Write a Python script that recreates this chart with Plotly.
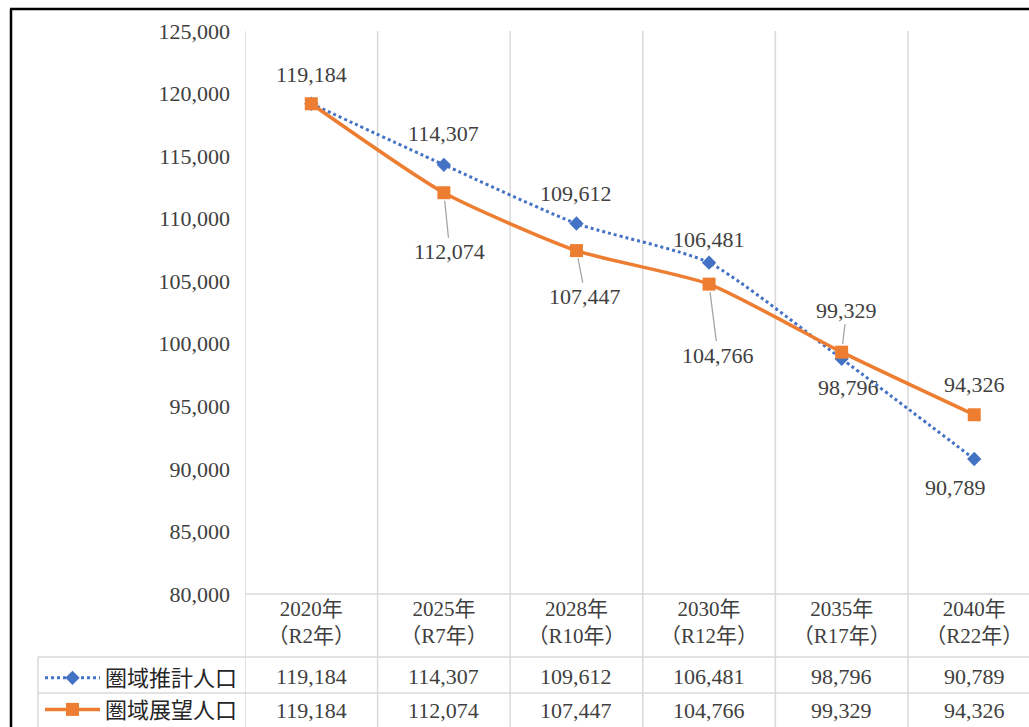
import plotly.graph_objects as go

# ---------------- data ----------------
years = ["2020年", "2025年", "2028年", "2030年", "2035年", "2040年"]
reiwa = ["R2年", "R7年", "R10年", "R12年", "R17年", "R22年"]
series_names = ["圏域推計人口", "圏域展望人口"]
estimated = [119184, 114307, 109612, 106481, 98796, 90789]
vision = [119184, 112074, 107447, 104766, 99329, 94326]
y_ticks = [80000, 85000, 90000, 95000, 100000, 105000, 110000, 115000, 120000, 125000]

# ---------------- layout helpers (pixels -> paper) ----------------
W, H = 1029, 727
def px(x):
    return x / W
def py(y):
    return 1 - y / H

NUM_FONT = "Liberation Serif, Noto Sans CJK JP, serif"
JP_FONT = "Noto Sans CJK JP, sans-serif"
TXT = "#404040"
GRID = "#D9D9D9"
BLUE = "#4472C4"
ORANGE = "#ED7D31"

xs = list(range(len(years)))
ticktext = [f"{a}<br>（{b}）" for a, b in zip(years, reiwa)]

fig = go.Figure()
fig.add_trace(go.Scatter(
    x=xs, y=estimated, name=series_names[0], mode="lines+markers",
    line=dict(color=BLUE, width=3, dash="dot", shape="spline", smoothing=0.6),
    marker=dict(symbol="diamond", size=11, color=BLUE),
    legendgroup="a", cliponaxis=False,
))
fig.add_trace(go.Scatter(
    x=xs, y=vision, name=series_names[1], mode="lines+markers",
    line=dict(color=ORANGE, width=3.5, shape="spline", smoothing=0.6),
    marker=dict(symbol="square", size=13, color=ORANGE),
    legendgroup="b", cliponaxis=False,
))

# data label offsets (pixels)
est_shift = [(0, 29), (0, 31), (0, 30), (0, 23), (7, -29), (-19, -28)]
vis_off = [None, (6, 59), (9, 46), (9, 71), (5, -42), (0, -30)]
vis_leader = [False, True, True, True, True, False]

LBL = dict(family=NUM_FONT, size=22, color=TXT)
ann = []
for i, v in enumerate(estimated):
    dx, dy = est_shift[i]
    ann.append(dict(x=xs[i], y=v, xref="x", yref="y", text=f"{v:,}", showarrow=False,
                    xshift=dx, yshift=dy, font=LBL))
for i, v in enumerate(vision):
    if vis_off[i] is None:
        continue
    dx, dy = vis_off[i]
    if vis_leader[i]:
        ann.append(dict(x=xs[i], y=v, xref="x", yref="y", text=f"{v:,}", showarrow=True,
                        ax=dx, ay=dy, arrowhead=0, arrowwidth=1.3, arrowcolor="#A6A6A6",
                        standoff=8, font=LBL))
    else:
        ann.append(dict(x=xs[i], y=v, xref="x", yref="y", text=f"{v:,}", showarrow=False,
                        xshift=dx, yshift=-dy, font=LBL))

# data table values
for row_y, vals in ((676, estimated), (710, vision)):
    for i, v in enumerate(vals):
        ann.append(dict(x=xs[i], y=py(row_y), xref="x", yref="paper", text=f"{v:,}",
                        showarrow=False, yanchor="middle", font=LBL))

shapes = []
# vertical category boundaries (grid + table)
for i in range(len(years) + 1):
    shapes.append(dict(type="line", xref="x", yref="paper", x0=i - 0.5, x1=i - 0.5,
                       y0=py(31), y1=py(740), line=dict(color=GRID, width=1.5), layer="below"))
# table horizontal lines
shapes.append(dict(type="line", xref="paper", yref="paper", x0=px(245), x1=1.02,
                   y0=py(594), y1=py(594), line=dict(color=GRID, width=1.5), layer="below"))
for yy in (657, 693):
    shapes.append(dict(type="line", xref="paper", yref="paper", x0=px(38), x1=1.02,
                       y0=py(yy), y1=py(yy), line=dict(color=GRID, width=1.5), layer="below"))
shapes.append(dict(type="line", xref="paper", yref="paper", x0=px(38), x1=px(38),
                   y0=py(657), y1=py(740), line=dict(color=GRID, width=1.5), layer="below"))
# outer frame (left & top visible)
shapes.append(dict(type="line", xref="paper", yref="paper", x0=px(11), x1=px(11),
                   y0=py(9), y1=py(740), line=dict(color="#000000", width=2.5)))
shapes.append(dict(type="line", xref="paper", yref="paper", x0=px(10), x1=1.02,
                   y0=py(9), y1=py(9), line=dict(color="#000000", width=2.5)))

fig.update_layout(
    width=W, height=H,
    margin=dict(l=0, r=0, t=0, b=0, pad=0, autoexpand=False),
    paper_bgcolor="white", plot_bgcolor="white",
    font=dict(family=NUM_FONT, size=20, color=TXT),
    xaxis=dict(range=[-0.5, 5.413], domain=[px(245), 1], tickvals=xs, ticktext=ticktext,
               showgrid=False, zeroline=False, showline=False, ticks="", automargin=False,
               tickfont=dict(family=NUM_FONT, size=21, color=TXT), fixedrange=True),
    yaxis=dict(range=[80000, 125000], domain=[py(594), py(31)], tickvals=y_ticks,
               tickformat=",d", showgrid=False, zeroline=False, showline=False, ticks="",
               ticklabelstandoff=14, automargin=False,
               tickfont=LBL, fixedrange=True),
    showlegend=True,
    legend=dict(x=px(40), y=py(657), xanchor="left", yanchor="top",
                font=dict(family=JP_FONT, size=22, color="#262626"),
                bgcolor="rgba(0,0,0,0)", itemwidth=55, tracegroupgap=6,
                traceorder="normal"),
    annotations=ann,
    shapes=shapes,
)

fig.write_html("out.html", config={"displayModeBar": False},
               post_script="document.body.style.margin='0';document.body.style.overflow='hidden';")
